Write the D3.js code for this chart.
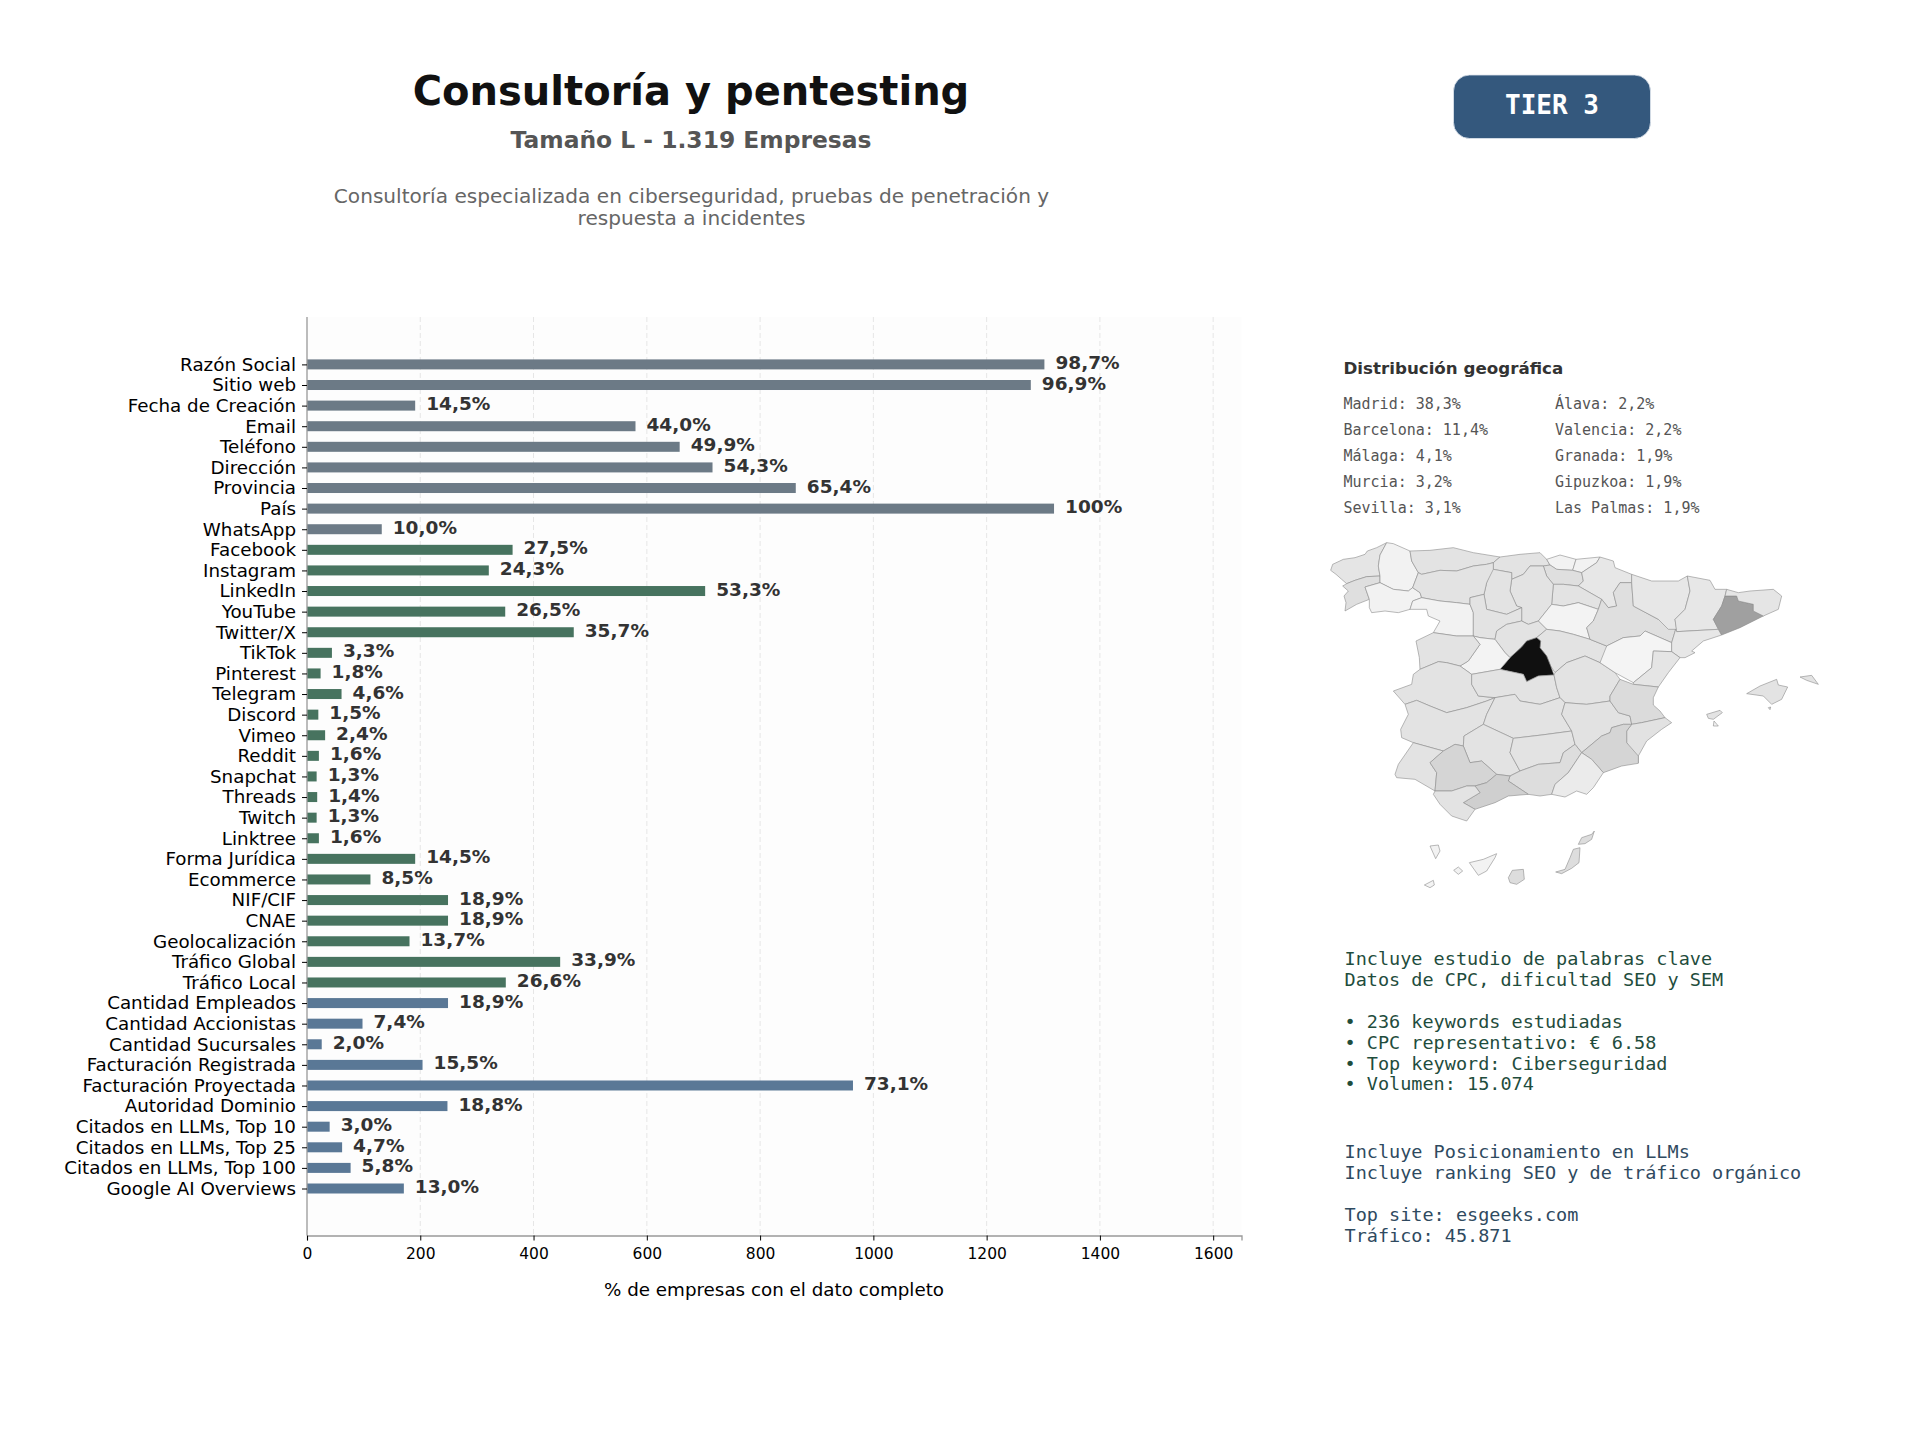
<!DOCTYPE html>
<html>
<head>
<meta charset="utf-8">
<script src="https://cdn.jsdelivr.net/npm/d3@7"></script>
<style>
    body { margin: 0; background: #fff; }
    text { font-family: "DejaVu Sans"; }
    .mono { font-family: "DejaVu Sans Mono"; }
</style>
</head>
<body>
<div class="container"></div>
<script>
const categories = ['Razón Social', 'Sitio web', 'Fecha de Creación', 'Email', 'Teléfono', 'Dirección', 'Provincia', 'País', 'WhatsApp',
    'Facebook', 'Instagram', 'LinkedIn', 'YouTube', 'Twitter/X', 'TikTok', 'Pinterest', 'Telegram', 'Discord', 'Vimeo', 'Reddit',
    'Snapchat', 'Threads', 'Twitch', 'Linktree', 'Forma Jurídica', 'Ecommerce', 'NIF/CIF', 'CNAE', 'Geolocalización', 'Tráfico Global',
    'Tráfico Local', 'Cantidad Empleados', 'Cantidad Accionistas', 'Cantidad Sucursales', 'Facturación Registrada', 'Facturación Proyectada',
    'Autoridad Dominio', 'Citados en LLMs, Top 10', 'Citados en LLMs, Top 25', 'Citados en LLMs, Top 100', 'Google AI Overviews'];
const counts = [1302, 1278, 191, 580, 658, 716, 863, 1319, 132,
    363, 321, 703, 350, 471, 44, 24, 61, 20, 32, 21,
    17, 18, 17, 21, 191, 112, 249, 249, 181, 447,
    351, 249, 98, 26, 204, 964,
    248, 40, 62, 77, 171];
const pctLabels = ['98,7%', '96,9%', '14,5%', '44,0%', '49,9%', '54,3%', '65,4%', '100%', '10,0%',
    '27,5%', '24,3%', '53,3%', '26,5%', '35,7%', '3,3%', '1,8%', '4,6%', '1,5%', '2,4%', '1,6%',
    '1,3%', '1,4%', '1,3%', '1,6%', '14,5%', '8,5%', '18,9%', '18,9%', '13,7%', '33,9%',
    '26,6%', '18,9%', '7,4%', '2,0%', '15,5%', '73,1%',
    '18,8%', '3,0%', '4,7%', '5,8%', '13,0%'];
// 0 = datos basicos, 1 = redes y registro, 2 = negocio y LLMs
const groups = [0, 0, 0, 0, 0, 0, 0, 0, 0,
    1, 1, 1, 1, 1, 1, 1, 1, 1, 1, 1, 1, 1, 1, 1, 1, 1, 1, 1, 1, 1, 1,
    2, 2, 2, 2, 2, 2, 2, 2, 2, 2];
const xTicks = [0, 200, 400, 600, 800, 1000, 1200, 1400, 1600];

const geoLeft = ['Madrid: 38,3%', 'Barcelona: 11,4%', 'Málaga: 4,1%', 'Murcia: 3,2%', 'Sevilla: 3,1%'];
const geoRight = ['Álava: 2,2%', 'Valencia: 2,2%', 'Granada: 1,9%', 'Gipuzkoa: 1,9%', 'Las Palmas: 1,9%'];
const keywordLines = ['Incluye estudio de palabras clave', 'Datos de CPC, dificultad SEO y SEM', '', '• 236 keywords estudiadas',
    '• CPC representativo: € 6.58', '• Top keyword: Ciberseguridad', '• Volumen: 15.074'];
const seoLines = ['Incluye Posicionamiento en LLMs', 'Incluye ranking SEO y de tráfico orgánico', '', 'Top site: esgeeks.com', 'Tráfico: 45.871'];

// no geo file available offline, so the province outlines are traced by hand (trace units, scaled below)
const provinces = [
    ['A Coruña', 0.9, [[170,5],[150,42],[145,75],[150,105],[110,107],[75,118],[50,128],[35,115],[18,100],[2,88],[8,70],[40,55],[75,50],[105,40],[112,30],[140,20]]],
    ['Pontevedra', 1.6, [[50,128],[75,118],[110,107],[150,105],[150,125],[105,138],[118,175],[80,190],[45,210],[48,185],[42,165],[55,150],[38,135]]],
    ['Lugo', 0.2, [[170,5],[190,8],[240,30],[245,60],[265,95],[248,140],[235,150],[190,145],[150,125],[150,105],[145,75],[150,42]]],
    ['Ourense', 0.2, [[105,138],[150,125],[190,145],[235,150],[248,140],[270,155],[275,170],[248,180],[240,205],[205,215],[165,210],[125,215],[118,200],[118,175]]],
    ['Asturias', 1, [[240,30],[300,28],[370,20],[430,35],[510,48],[490,65],[470,70],[430,75],[380,90],[330,88],[275,100],[265,95],[245,60]]],
    ['Cantabria', 1, [[510,48],[570,40],[630,35],[650,55],[660,72],[640,75],[600,75],[580,100],[545,115],[545,95],[490,85],[490,65]]],
    ['Bizkaia', 0.2, [[650,55],[690,42],[738,55],[728,88],[680,85],[660,72]]],
    ['Gipuzkoa', 0.2, [[738,55],[810,48],[800,65],[755,95],[728,88]]],
    ['Álava', 1.6, [[640,75],[660,72],[680,85],[728,88],[755,95],[760,120],[745,135],[700,130],[670,130],[650,105]]],
    ['Navarra', 0.8, [[810,48],[850,60],[855,80],[905,100],[905,125],[870,125],[850,155],[860,195],[835,200],[815,175],[745,135],[760,120],[755,95],[800,65]]],
    ['La Rioja', 1, [[670,130],[700,130],[745,135],[815,175],[805,205],[745,185],[700,195],[665,190]]],
    ['Burgos', 1, [[545,115],[580,100],[600,75],[640,75],[650,105],[670,130],[665,190],[625,240],[595,250],[575,240],[575,200],[560,195],[540,150]]],
    ['Palencia', 1, [[490,85],[545,95],[545,115],[540,150],[560,195],[575,200],[530,220],[470,205],[462,160],[470,125],[485,85]]],
    ['León', 1, [[265,95],[275,100],[330,88],[380,90],[430,75],[470,70],[490,65],[490,85],[470,125],[462,160],[420,170],[420,190],[380,185],[330,180],[275,170],[270,155],[248,140]]],
    ['Zamora', 0.2, [[248,180],[275,170],[330,180],[380,185],[420,190],[430,215],[430,285],[380,285],[310,275],[330,240],[295,225],[290,205],[240,205]]],
    ['Valladolid', 1, [[420,170],[462,160],[470,205],[530,220],[575,200],[575,240],[530,250],[500,270],[495,295],[450,290],[430,285],[430,215],[420,190]]],
    ['Soria', 0.15, [[625,240],[665,190],[700,195],[745,185],[805,205],[790,240],[770,260],[780,295],[730,280],[690,270],[650,265]]],
    ['Segovia', 1, [[500,270],[530,250],[575,240],[595,250],[625,240],[650,265],[620,290],[590,300],[575,318],[540,350],[525,335],[495,295]]],
    ['Guadalajara', 1, [[650,265],[690,270],[730,280],[780,295],[830,315],[835,355],[810,365],[765,345],[710,365],[675,395],[662,375],[650,345],[630,320],[632,300],[620,290]]],
    ['Madrid', 38.3, [[620,290],[632,300],[630,320],[650,345],[662,375],[672,402],[625,405],[590,422],[580,400],[510,385],[540,350],[575,318],[590,300]]],
    ['Ávila', 0.15, [[430,285],[450,290],[495,295],[525,335],[540,350],[510,385],[425,400],[390,375],[415,360],[450,310]]],
    ['Salamanca', 1, [[310,275],[380,285],[430,285],[450,310],[415,360],[390,375],[350,365],[325,362],[270,385],[268,350],[258,300]]],
    ['Cáceres', 1, [[190,450],[245,430],[250,400],[270,385],[325,362],[350,365],[390,375],[425,400],[425,430],[445,465],[495,470],[470,480],[410,500],[350,515],[300,495],[260,478],[225,490]]],
    ['Toledo', 1, [[425,400],[510,385],[580,400],[590,422],[625,405],[672,402],[680,440],[690,470],[630,490],[570,480],[555,460],[495,470],[445,465],[425,430]]],
    ['Cuenca', 1, [[675,395],[710,365],[765,345],[810,365],[855,395],[870,415],[840,465],[840,480],[770,490],[705,485],[690,470],[680,440],[672,402]]],
    ['Badajoz', 1, [[225,490],[260,478],[300,495],[350,515],[410,500],[470,480],[495,470],[470,520],[460,550],[402,585],[400,615],[375,610],[340,630],[250,605],[215,590],[212,565],[235,520]]],
    ['Ciudad Real', 1, [[495,470],[555,460],[570,480],[630,490],[690,470],[705,485],[695,520],[725,570],[635,582],[550,592],[460,550],[470,520]]],
    ['Córdoba', 1, [[400,615],[402,585],[460,550],[550,592],[540,635],[570,690],[540,705],[500,700],[455,660],[420,665]]],
    ['Jaén', 1, [[550,592],[635,582],[725,570],[735,610],[700,635],[690,665],[625,670],[570,690],[540,635]]],
    ['Albacete', 1.1, [[705,485],[770,490],[840,480],[865,515],[900,525],[905,550],[880,550],[845,560],[840,575],[815,585],[755,635],[735,610],[725,570],[695,520]]],
    ['Zaragoza', 1.6, [[835,200],[860,195],[850,155],[870,125],[905,125],[910,195],[985,235],[1037,265],[1025,305],[945,270],[930,285],[880,290],[830,315],[780,295],[770,260],[790,240],[805,205],[815,175]]],
    ['Teruel', 0.1, [[810,365],[830,315],[880,290],[930,285],[945,270],[1025,305],[1025,332],[970,330],[965,380],[910,425],[855,395]]],
    ['Huesca', 0.8, [[905,100],[965,120],[1045,120],[1072,105],[1080,150],[1065,205],[1035,235],[1040,265],[1015,265],[985,235],[910,195],[905,125]]],
    ['Lleida', 0.8, [[1072,105],[1140,118],[1155,145],[1190,145],[1185,165],[1175,195],[1150,235],[1165,265],[1040,272],[1035,235],[1065,205],[1080,150]]],
    ['Tarragona', 0.8, [[1040,272],[1165,265],[1175,282],[1120,300],[1085,330],[1095,335],[1065,350],[1050,350],[1025,332],[1025,305],[1037,265]]],
    ['Barcelona', 11.4, [[1185,165],[1220,165],[1225,180],[1270,190],[1270,210],[1300,225],[1230,260],[1175,282],[1150,235],[1175,195]]],
    ['Girona', 0.9, [[1190,145],[1225,155],[1260,150],[1330,145],[1355,165],[1345,205],[1300,225],[1270,210],[1270,190],[1225,180],[1220,165],[1185,165]]],
    ['Castellón', 0.9, [[910,425],[965,380],[970,330],[1025,332],[1050,350],[1015,395],[985,438],[910,430]]],
    ['Valencia', 2.2, [[840,465],[870,415],[910,430],[985,438],[970,470],[970,492],[990,510],[1005,530],[935,545],[905,550],[900,525],[865,515],[840,480]]],
    ['Alicante', 1.2, [[905,550],[935,545],[1005,530],[1025,545],[995,565],[950,600],[925,645],[925,665],[915,650],[890,605],[890,570]]],
    ['Murcia', 3.2, [[845,560],[880,550],[905,550],[890,570],[890,605],[925,645],[925,667],[875,675],[820,695],[785,655],[755,635],[815,585],[840,575]]],
    ['Huelva', 1, [[250,605],[205,670],[195,700],[200,710],[255,715],[315,750],[320,695],[300,665],[340,630]]],
    ['Sevilla', 3.1, [[340,630],[375,610],[400,615],[420,665],[455,660],[500,700],[470,725],[435,735],[410,735],[365,750],[315,750],[320,695],[300,665]]],
    ['Granada', 1.9, [[540,705],[570,690],[625,670],[690,665],[700,635],[735,610],[755,635],[715,695],[675,730],[665,760],[630,765],[595,760],[535,720]]],
    ['Almería', 0.6, [[755,635],[785,655],[820,695],[790,740],[770,760],[740,750],[705,768],[665,760],[675,730],[715,695]]],
    ['Málaga', 4.1, [[500,700],[540,705],[535,720],[595,760],[535,765],[495,785],[435,805],[400,785],[450,755],[435,735],[470,725]]],
    ['Cádiz', 1, [[315,750],[365,750],[410,735],[435,735],[450,755],[400,785],[435,805],[410,840],[365,825],[330,790],[310,760]]],
    ['Mallorca', 1, [[1250,458],[1290,435],[1340,415],[1345,432],[1373,438],[1355,475],[1325,490],[1300,465]]],
    ['Menorca', 1, [[1410,408],[1445,403],[1465,430],[1430,418]]],
    ['Ibiza', 1, [[1130,520],[1170,508],[1177,515],[1150,535],[1135,532]]],
    ['Formentera', 0.2, [[1152,540],[1165,555],[1150,555]]],
    ['Cabrera', 1, [[1315,500],[1322,498],[1320,506]]],
    ['Lanzarote', 1.9, [[745,910],[755,890],[785,880],[793,870],[785,895],[765,908]]],
    ['Fuerteventura', 1.9, [[677,993],[705,985],[720,950],[730,925],[750,920],[747,965],[725,982],[695,998]]],
    ['Gran Canaria', 1.9, [[535,1010],[547,988],[580,985],[583,1015],[560,1030],[540,1025]]],
    ['Tenerife', 0.2, [[418,965],[460,955],[500,938],[495,950],[470,990],[445,1003]]],
    ['La Gomera', 0.2, [[371,988],[385,978],[398,990],[385,1000]]],
    ['La Palma', 0.2, [[300,915],[325,912],[330,930],[317,953]]],
    ['El Hierro', 0.1, [[283,1032],[310,1018],[313,1032],[300,1040]]]
];

const barColors = ['#6c7a86', '#47735f', '#5a7896'];

const width = 1920;
const height = 1440;
const svg = d3.select('.container').append('svg').attr('width', width).attr('height', height);

// header
svg.append('text').attr('x', 691).attr('y', 105).attr('text-anchor', 'middle')
    .attr('font-size', 40).attr('font-weight', 'bold').attr('fill', '#111').text('Consultoría y pentesting');
svg.append('text').attr('x', 691).attr('y', 148).attr('text-anchor', 'middle')
    .attr('font-size', 23.4).attr('font-weight', 'bold').attr('fill', '#555').text('Tamaño L - 1.319 Empresas');
['Consultoría especializada en ciberseguridad, pruebas de penetración y', 'respuesta a incidentes'].forEach((line, i) =>
{
    svg.append('text').attr('x', 691.5).attr('y', 203 + i * 22).attr('text-anchor', 'middle')
        .attr('font-size', 20.1).attr('fill', '#666').text(line);
});

svg.append('rect').attr('x', 1453.5).attr('y', 75).attr('width', 197).attr('height', 63.5).attr('rx', 16)
    .attr('fill', '#34587d').attr('stroke', '#dfe6ee').attr('stroke-width', 0.8);
svg.append('text').attr('class', 'mono').attr('x', 1552).attr('y', 114).attr('text-anchor', 'middle')
    .attr('font-size', 26).attr('font-weight', 'bold').attr('fill', '#fff').text('TIER 3');

// bar chart
const plot = { left: 307, right: 1241.5, top: 317, bottom: 1235.5 };
const x = d3.scaleLinear().domain([0, 1650]).range([plot.left, plot.right]);
const y = d3.scalePoint().domain(categories).range([364.4, 1188.5]);
const barHeight = 10;

svg.append('rect').attr('x', plot.left).attr('y', plot.top)
    .attr('width', plot.right - plot.left).attr('height', plot.bottom - plot.top).attr('fill', '#fdfdfd');

svg.append('g').selectAll('line').data(xTicks.slice(1)).enter().append('line')
    .attr('x1', d => x(d)).attr('x2', d => x(d)).attr('y1', plot.top).attr('y2', plot.bottom)
    .attr('stroke', '#e6e6e6').attr('stroke-width', 1).attr('stroke-dasharray', '5 3');

svg.append('g').selectAll('rect').data(categories).enter().append('rect')
    .attr('x', plot.left)
    .attr('y', d => y(d) - barHeight / 2)
    .attr('width', (d, i) => x(counts[i]) - plot.left)
    .attr('height', barHeight)
    .attr('fill', (d, i) => barColors[groups[i]]);

svg.append('g').selectAll('text').data(categories).enter().append('text')
    .attr('x', (d, i) => x(counts[i]) + 11)
    .attr('y', d => y(d) + 4.5)
    .attr('font-size', 18.5).attr('font-weight', 'bold').attr('fill', '#333')
    .text((d, i) => pctLabels[i]);

const xAxis = svg.append('g').attr('transform', `translate(0,${plot.bottom})`)
    .call(d3.axisBottom(x).tickValues(xTicks).tickFormat(d3.format('d')).tickSizeOuter(0).tickSize(5).tickPadding(7.5));
const yAxis = svg.append('g').attr('transform', `translate(${plot.left},0)`)
    .call(d3.axisLeft(y).tickSize(5).tickPadding(6));
yAxis.select('.domain').attr('d', `M0,${plot.top}V${plot.bottom}`);

xAxis.selectAll('text').attr('font-size', 15.5).attr('font-family', 'DejaVu Sans').attr('fill', '#000');
yAxis.selectAll('text').attr('font-size', 18.3).attr('font-family', 'DejaVu Sans').attr('fill', '#000');
xAxis.select('.domain').attr('stroke', '#999').attr('stroke-width', 1.3);
yAxis.select('.domain').attr('stroke', '#999').attr('stroke-width', 1.3);

svg.append('text').attr('x', 774).attr('y', 1296).attr('text-anchor', 'middle')
    .attr('font-size', 18.3).attr('fill', '#000').text('% de empresas con el dato completo');

// geographic panel
svg.append('text').attr('x', 1343.5).attr('y', 374)
    .attr('font-size', 16.7).attr('font-weight', 'bold').attr('fill', '#333').text('Distribución geográfica');

const geoRows = d3.scalePoint().domain(d3.range(5)).range([408.5, 513]);
[[geoLeft, 1343.5], [geoRight, 1555]].forEach(([rows, left]) =>
{
    svg.append('g').selectAll('text').data(rows).enter().append('text')
        .attr('class', 'mono').attr('x', left).attr('y', (d, i) => geoRows(i))
        .attr('font-size', 15).attr('fill', '#555').text(d => d);
});

// map
const mapX = d3.scaleLinear().domain([0, 900]).range([1330, 1630]);
const mapY = d3.scaleLinear().domain([0, 630]).range([541, 751]);
const shade = d3.scaleLinear().domain([0, 1, 4.1, 11.4, 38.3])
    .range(['#f6f6f6', '#e3e3e3', '#cfcfcf', '#a0a0a0', '#101010']);
const outline = d3.line().x(d => mapX(d[0])).y(d => mapY(d[1])).curve(d3.curveLinearClosed);

svg.append('g').selectAll('path').data(provinces).enter().append('path')
    .attr('d', d => outline(d[2]))
    .attr('fill', d => shade(d[1]))
    .attr('stroke', '#8c8c8c').attr('stroke-width', 0.6).attr('stroke-linejoin', 'round');

// notes
const drawNotes = (lines, top, color) =>
{
    svg.append('g').selectAll('text').data(lines).enter().append('text')
        .attr('class', 'mono').attr('x', 1344.5).attr('y', (d, i) => top + i * 20.9)
        .attr('font-size', 18.5).attr('fill', color).text(d => d);
};
drawNotes(keywordLines, 965, '#1f4d3d');
drawNotes(seoLines, 1158.3, '#2f4a5f');
</script>
</body>
</html>
